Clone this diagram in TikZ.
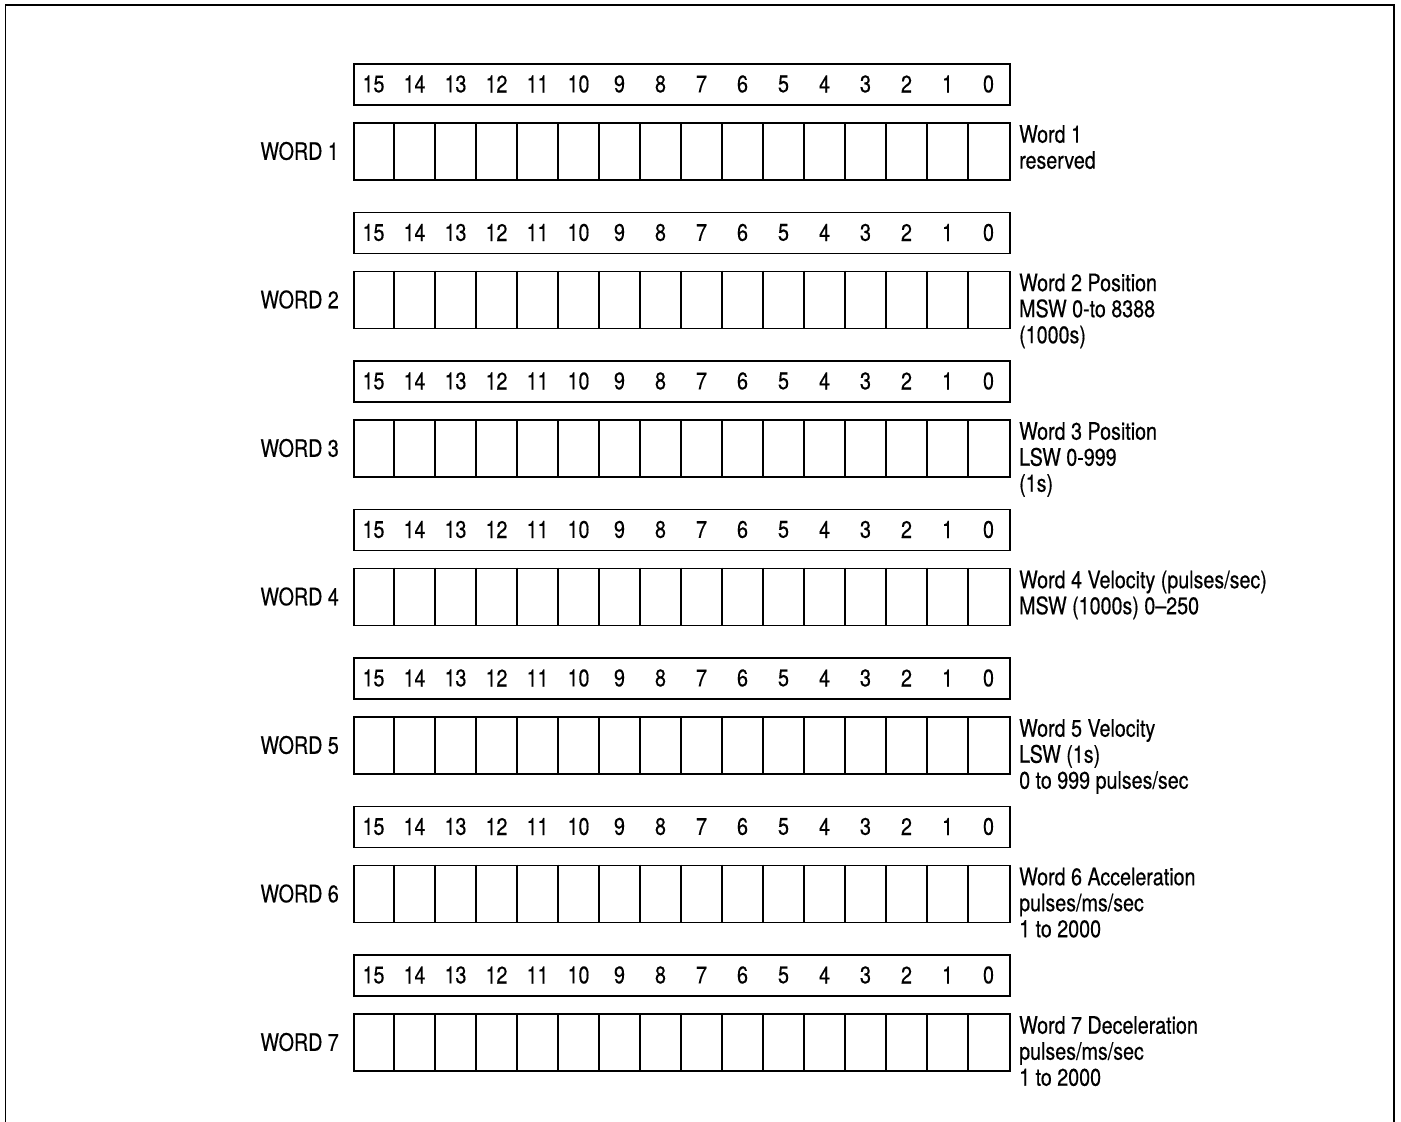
\documentclass[tikz,border=0pt]{standalone}
\usepackage{fontspec}
\setmainfont{TeX Gyre Heros}[FakeStretch=0.82,FakeBold=0.4]
\begin{document}
\begin{tikzpicture}[x=1pt,y=-1pt,
  lbl/.style={font=\fontsize{24}{26}\selectfont, inner sep=0pt},
  boxline/.style={line width=1.8pt},
  wordbox/.style={draw, line width=1.8pt, minimum width=656pt, inner sep=0pt, anchor=north west}]
\useasboundingbox (0,0) rectangle (1401,1122);
% outer frame (no bottom edge visible)
\coordinate (fbl) at (5.5,1130);
\coordinate (ftl) at (5.5,5);
\coordinate (ftr) at (1394,5);
\coordinate (fbr) at (1394,1130);
\draw[boxline] (fbl) -- (ftl) -- (ftr) -- (fbr);
\foreach \r/\desc in {%
  1/{Word 1\\reserved},
  2/{Word 2 Position\\MSW 0-to 8388\\(1000s)},
  3/{Word 3 Position\\LSW 0-999\\(1s)},
  4/{Word 4 Velocity (pulses/sec)\\MSW (1000s) 0--250},
  5/{Word 5 Velocity\\LSW (1s)\\0 to 999 pulses/sec},
  6/{Word 6 Acceleration\\pulses/ms/sec\\1 to 2000},
  7/{Word 7 Deceleration\\pulses/ms/sec\\1 to 2000}} {
  \pgfmathsetmacro{\T}{63+(\r-1)*148.5}
  % header with bit numbers
  \node[wordbox, minimum height=41pt] (h\r) at (353,\T) {};
  \foreach \i in {0,...,15} {
    \pgfmathtruncatemacro{\b}{15-\i}
    \node[lbl] (n\r-\i) at (353+41*\i+20.5,\T+21) {\b};
  }
  % data cells
  \node[wordbox, minimum height=57pt] (c\r) at (353,\T+59) {};
  \foreach \i in {1,...,15} {
    \draw[boxline] (353+41*\i,\T+59) -- (353+41*\i,\T+116);
  }
  \node[lbl, anchor=east] (w\r) at (339,\T+88) {WORD \r};
  \node[lbl, anchor=north west, align=left] (d\r) at (1019,\T+62) {\desc};
}
\end{tikzpicture}
\end{document}
